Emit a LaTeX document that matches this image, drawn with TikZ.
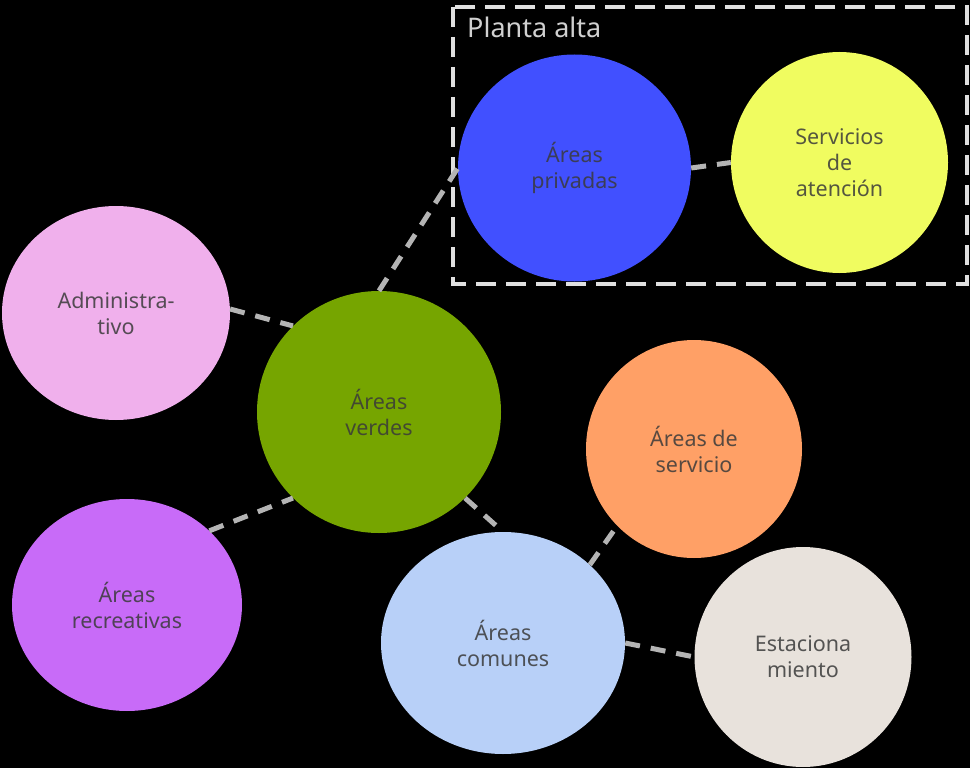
\documentclass[tikz,border=0pt]{standalone}
\usepackage{fontspec}
\setmainfont{Noto Sans}
\usetikzlibrary{shapes.geometric}
\definecolor{cpink}{HTML}{F0B0EC}
\definecolor{cgreen}{HTML}{76A500}
\definecolor{cpurple}{HTML}{C86BF8}
\definecolor{cblue}{HTML}{4150FF}
\definecolor{cyellow}{HTML}{F0FC60}
\definecolor{corange}{HTML}{FFA066}
\definecolor{clblue}{HTML}{B8D0F8}
\definecolor{cbeige}{HTML}{E8E2DC}
\definecolor{linkgray}{HTML}{B4B4B4}
\definecolor{boxgray}{HTML}{E0E0E0}
\definecolor{titlegray}{HTML}{D0D0D0}
\definecolor{txtgray}{HTML}{3A3A3A}
\tikzset{
  zone/.style={ellipse, draw=none, inner sep=0pt, align=center,
    font=\fontsize{21.5}{26}\selectfont, text=txtgray, text opacity=0.85},
  link/.style={draw=linkgray, line width=5pt, dash pattern=on 15pt off 11pt},
  floorbox/.style={draw=boxgray, line width=4pt, dash pattern=on 20pt off 10pt}
}
\begin{document}
\begin{tikzpicture}[x=1pt,y=-1pt]
\fill[black] (0,0) rectangle (970,768);
\useasboundingbox (0,0) rectangle (970,768);
% floor box
\draw[floorbox] (453,7) rectangle (967,284);
\node[anchor=base west, text=titlegray, font=\fontsize{27}{32}\selectfont, inner sep=0pt] (planta) at (467,38) {Planta alta};
% zones
\node[zone, fill=cblue, minimum width=233pt, minimum height=227pt] (priv) at (574.5,168) {Áreas\\privadas};
\node[zone, fill=cyellow, minimum width=217pt, minimum height=221pt] (serv) at (839.5,162.5) {Servicios\\de\\atención};
\node[zone, fill=cpink, minimum width=228pt, minimum height=214pt] (admin) at (116,313) {Administra-\\tivo};
\node[zone, fill=cgreen, minimum width=244pt, minimum height=242pt] (verdes) at (379,412) {Áreas\\verdes};
\node[zone, fill=cpurple, minimum width=230pt, minimum height=212pt] (recre) at (127,605) {Áreas\\recreativas};
\node[zone, fill=corange, minimum width=216pt, minimum height=218pt] (servicio) at (694,449) {Áreas de\\servicio};
\node[zone, fill=clblue, minimum width=244pt, minimum height=222pt] (comunes) at (503,643) {Áreas\\comunes};
\node[zone, fill=cbeige, minimum width=217pt, minimum height=220pt] (estac) at (803,657) {Estaciona\\miento};
% links
\draw[link] (admin.2) -- (verdes.135);
\draw[link] (recre.42) -- (verdes.225);
\draw[link] (verdes.90) -- (priv.180);
\draw[link] (priv.0) -- (serv.180);
\draw[link] (verdes.-45) -- (comunes.90);
\draw[link] (comunes.42) -- (servicio.225);
\draw[link] (comunes.0) -- (estac.180);
\end{tikzpicture}
\end{document}
